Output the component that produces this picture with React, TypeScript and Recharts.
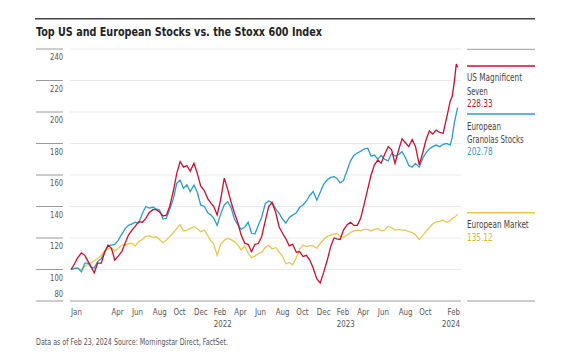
import React from "react";
import { LineChart, Line, XAxis, YAxis, CartesianGrid } from "recharts";

const dates = [
  "2021-01-01","2021-01-11","2021-01-21","2021-02-01","2021-02-11","2021-02-21",
  "2021-03-01","2021-03-11","2021-03-21","2021-04-01","2021-04-11","2021-04-21",
  "2021-05-01","2021-05-11","2021-05-21","2021-06-01","2021-06-11","2021-06-21",
  "2021-07-01","2021-07-11","2021-07-21","2021-08-01","2021-08-11","2021-08-21",
  "2021-09-01","2021-09-11","2021-09-21","2021-10-01","2021-10-11","2021-10-21",
  "2021-11-01","2021-11-11","2021-11-21","2021-12-01","2021-12-11","2021-12-21",
  "2022-01-01","2022-01-11","2022-01-21","2022-02-01","2022-02-11","2022-02-21",
  "2022-03-01","2022-03-11","2022-03-21","2022-04-01","2022-04-11","2022-04-21",
  "2022-05-01","2022-05-11","2022-05-21","2022-06-01","2022-06-11","2022-06-21",
  "2022-07-01","2022-07-11","2022-07-21","2022-08-01","2022-08-11","2022-08-21",
  "2022-09-01","2022-09-11","2022-09-21","2022-10-01","2022-10-11","2022-10-21",
  "2022-11-01","2022-11-11","2022-11-21","2022-12-01","2022-12-11","2022-12-21",
  "2023-01-01","2023-01-11","2023-01-21","2023-02-01","2023-02-11","2023-02-21",
  "2023-03-01","2023-03-11","2023-03-21","2023-04-01","2023-04-11","2023-04-21",
  "2023-05-01","2023-05-11","2023-05-21","2023-06-01","2023-06-11","2023-06-21",
  "2023-07-01","2023-07-11","2023-07-21","2023-08-01","2023-08-11","2023-08-21",
  "2023-09-01","2023-09-11","2023-09-21","2023-10-01","2023-10-11","2023-10-21",
  "2023-11-01","2023-11-11","2023-11-21","2023-12-01","2023-12-11","2023-12-21",
  "2024-01-01","2024-01-11","2024-01-21","2024-02-01","2024-02-07","2024-02-13",
  "2024-02-19","2024-02-23",
];

const usMagnificentSeven = [
  100, 103.5, 107.5, 110.5, 109, 105,
  102, 97.8, 104, 104, 111, 115.5,
  113.5, 106, 108.5, 111.5, 117, 122,
  125, 127.5, 130.4, 130, 132.5, 136,
  138, 138, 136.5, 134, 134.5, 140,
  150, 161, 168.5, 165, 166, 162.5,
  167.4, 161, 153, 150, 145, 142,
  140, 134.6, 144, 158, 151, 143,
  136, 130, 122, 116.6, 116, 111.3,
  116, 116.5, 120.8, 131, 140, 142.5,
  136, 127, 123, 119.5, 115, 116,
  111, 111.3, 108.2, 109, 106, 101,
  94, 91.5, 98, 106, 114.5, 120,
  119.5, 119, 125, 128.5, 130, 128,
  128, 132.5, 141, 151, 160, 166.5,
  169.5, 167.5, 173, 178, 176, 167.4,
  176, 183, 180.5, 178, 182.5, 178,
  166.4, 173.8, 182.2, 188, 186, 188.5,
  187, 186.5, 196, 207, 210, 219,
  230.5, 228.33,
];

const europeanGranolas = [
  100, 100.5, 101, 98.5, 104, 104,
  101.5, 101, 105, 107, 111, 115,
  115.5, 116, 118.5, 122.5, 126, 128,
  129, 130, 129.5, 135.5, 140, 139,
  139.5, 138.5, 137.8, 132, 132.5, 138,
  145, 154.7, 156.8, 151.5, 153.7, 149.4,
  153.5, 149, 141, 140, 136, 134.6,
  132.5, 128, 135, 141, 143, 139.5,
  132, 128.5, 125.5, 127, 130, 123,
  122.5, 128, 133, 142, 143.5, 142.5,
  138.5, 135.7, 132, 129.5, 133, 134.5,
  136, 139.5, 141, 143.5, 147, 149.5,
  144, 149, 154, 157, 158.5, 159,
  158, 155, 156.5, 163, 169, 172.5,
  174, 175, 176.5, 177, 172, 172.7,
  170, 172.5, 170, 169, 173.8, 172,
  173, 174.8, 171, 166, 165, 167.4,
  165, 170.5, 174, 176.5, 178, 179,
  178, 179.5, 180, 179, 184, 193,
  199, 202.78,
];

const europeanMarket = [
  100, 101, 100.5, 100, 102, 103.5,
  104, 105.5, 107, 109, 112, 113,
  113.5, 112, 113.5, 115.5, 115.5, 116.6,
  116.5, 115, 117.7, 119, 121, 121.3,
  120.4, 120.8, 119, 117, 118.5, 121,
  123.5, 126, 128.5, 124.5, 125, 126,
  127.2, 126, 124, 125, 121.5, 118,
  116, 109, 116, 118.5, 119.8, 119,
  117.7, 115.8, 112.4, 115, 110.5, 107.5,
  108.5, 110, 110.8, 114, 115.5, 113,
  114, 111, 108.5, 103.5, 104.5, 103,
  107.5, 113, 115.5, 114.5, 115.2, 115,
  113.5, 116.5, 119, 121, 122, 122.5,
  123, 121, 120.5, 122, 123.5, 124.5,
  125, 124.5, 125.5, 125.5, 124.5, 125.5,
  126, 124.5, 125, 127.5, 126.5, 125,
  125.5, 125, 125, 124, 123.5, 122,
  119, 121.5, 124, 126.5, 129, 130.2,
  130.5, 131.4, 130, 131, 132.5, 133,
  134.2, 135.12,
];

const yTicks = [80, 100, 120, 140, 160, 180, 200, 220, 240];

const xTickDates = [
  "2021-01-01","2021-05-01","2021-07-01","2021-09-01","2021-11-01","2022-01-01",
  "2022-03-01","2022-05-01","2022-07-01","2022-09-01","2022-11-01","2023-01-01",
  "2023-03-01","2023-05-01","2023-07-01","2023-09-01","2023-11-01","2024-03-01",
];
const xTickMonths = [
  "Jan","Apr","Jun","Aug","Oct","Dec",
  "Feb","Apr","Jun","Aug","Oct","Dec",
  "Feb","Apr","Jun","Aug","Oct","Feb",
];
const xTickYears = [
  "","","","","","",
  "2022","","","","","",
  "2023","","","","","2024",
];

const legendLines = [
  ["US Magnificent", "Seven"],
  ["European", "Granolas Stocks"],
  ["European Market"],
];
const lastValues = ["228.33", "202.78", "135.12"];

const ts = (s: string) => {
  const [y, m, d] = s.split("-").map(Number);
  return Date.UTC(y, m - 1, d);
};

const rows = dates.map((d, i) => ({
  t: ts(d),
  us: usMagnificentSeven[i],
  gran: europeanGranolas[i],
  eu: europeanMarket[i],
}));

const xTicks = xTickDates.map(ts);
const xDomain = [ts("2020-12-29"), ts("2024-03-04")];

const RED = "#c8102e";
const BLUE = "#2b9ccf";
const YELLOW = "#ebc651";
const FONT = "'DejaVu Sans Condensed', 'DejaVu Sans', sans-serif";

const NText = (props: any) => {
  const { x, y, sx, anchor, children, ...rest } = props;
  return (
    <text
      transform={`translate(${x},${y}) scale(${sx},1)`}
      x={0}
      y={0}
      textAnchor={anchor || "start"}
      fontFamily={FONT}
      {...rest}
    >
      {children}
    </text>
  );
};

const XTick = (props: any) => {
  const { x, payload } = props;
  const i = xTicks.indexOf(payload.value);
  if (i < 0) return null;
  const anchor = i === xTicks.length - 1 ? "end" : "start";
  return (
    <g>
      <NText x={x} y={314.5} sx={0.82} anchor={anchor} fontSize={9.6} fill="#555">
        {xTickMonths[i]}
      </NText>
      {xTickYears[i] ? (
        <NText x={x} y={327} sx={0.82} anchor={anchor} fontSize={9.6} fill="#555">
          {xTickYears[i]}
        </NText>
      ) : null}
    </g>
  );
};

const YTick = (props: any) => {
  const { y, payload } = props;
  const v = payload.value;
  return (
    <g>
      <line x1={36} x2={63} y1={y} y2={y} stroke="#9a9a9a" strokeWidth={1} />
      <NText
        x={63}
        y={v === 80 ? y - 4.5 : y + 11}
        sx={0.8}
        anchor="end"
        fontSize={9.4}
        fill="#555"
      >
        {v}
      </NText>
    </g>
  );
};

export default function App() {
  const lx = 467;
  const lt = { fontSize: 9.6, fontFamily: FONT };
  return (
    <div
      style={{
        position: "absolute",
        left: 0,
        top: 0,
        width: 563,
        height: 355,
        background: "#fff",
        overflow: "hidden",
      }}
    >
      <LineChart
        width={563}
        height={355}
        data={rows}
        margin={{ top: 49, right: 102, bottom: 0, left: 36 }}
        style={{ position: "absolute", left: 0, top: 0 }}
      >
        <CartesianGrid horizontal vertical={false} stroke="#ebebeb" strokeWidth={1} />
        <XAxis
          type="number"
          dataKey="t"
          domain={xDomain}
          ticks={xTicks}
          interval={0}
          tick={<XTick />}
          tickLine={false}
          axisLine={{ stroke: "#a8a8a8", strokeWidth: 1 }}
          height={54}
          allowDataOverflow
        />
        <YAxis
          type="number"
          domain={[80, 240]}
          ticks={yTicks}
          interval={0}
          width={34}
          axisLine={false}
          tickLine={false}
          tick={<YTick />}
          allowDataOverflow
        />
        <Line type="linear" dataKey="eu" stroke={YELLOW} strokeWidth={1.3} dot={false} isAnimationActive={false} />
        <Line type="linear" dataKey="gran" stroke={BLUE} strokeWidth={1.3} dot={false} isAnimationActive={false} />
        <Line type="linear" dataKey="us" stroke={RED} strokeWidth={1.3} dot={false} isAnimationActive={false} />
      </LineChart>
      <svg
        width={563}
        height={355}
        style={{ position: "absolute", left: 0, top: 0, pointerEvents: "none" }}
      >
        <line x1={35} x2={535} y1={18.7} y2={18.7} stroke="#444" strokeWidth={1.4} />
        <text
          x={36}
          y={36}
          fontSize={12.8}
          fontWeight="bold"
          fill="#222"
          fontFamily={FONT}
          textLength={286}
          lengthAdjust="spacingAndGlyphs"
        >
          Top US and European Stocks vs. the Stoxx 600 Index
        </text>
        <line x1={lx} x2={535} y1={49.3} y2={49.3} stroke="#9a9a9a" strokeWidth={1} />
        <line x1={lx} x2={535} y1={301} y2={301} stroke="#9a9a9a" strokeWidth={1} />

        <line x1={lx} x2={535} y1={66} y2={66} stroke={RED} strokeWidth={1.4} />
        <text x={lx} y={81} {...lt} fill="#444" textLength={55} lengthAdjust="spacingAndGlyphs">{legendLines[0][0]}</text>
        <text x={lx} y={94.5} {...lt} fill="#444" textLength={20.7} lengthAdjust="spacingAndGlyphs">{legendLines[0][1]}</text>
        <text x={lx} y={107} {...lt} fill={RED} textLength={25.7} lengthAdjust="spacingAndGlyphs">{lastValues[0]}</text>

        <line x1={lx} x2={535} y1={114} y2={114} stroke={BLUE} strokeWidth={1.4} />
        <text x={lx} y={129.5} {...lt} fill="#444" textLength={34} lengthAdjust="spacingAndGlyphs">{legendLines[1][0]}</text>
        <text x={lx} y={142.5} {...lt} fill="#444" textLength={56.7} lengthAdjust="spacingAndGlyphs">{legendLines[1][1]}</text>
        <text x={lx} y={155} {...lt} fill={BLUE} textLength={25.7} lengthAdjust="spacingAndGlyphs">{lastValues[1]}</text>

        <line x1={lx} x2={535} y1={212.7} y2={212.7} stroke={YELLOW} strokeWidth={1.4} />
        <text x={lx} y={227.5} {...lt} fill="#444" textLength={61.7} lengthAdjust="spacingAndGlyphs">{legendLines[2][0]}</text>
        <text x={lx} y={240.5} {...lt} fill="#d9b13a" textLength={25.7} lengthAdjust="spacingAndGlyphs">{lastValues[2]}</text>

        <text
          x={36}
          y={344.5}
          fontSize={8.5}
          fill="#555"
          fontFamily={FONT}
          textLength={192}
          lengthAdjust="spacingAndGlyphs"
        >
          Data as of Feb 23, 2024 Source: Morningstar Direct, FactSet.
        </text>
      </svg>
    </div>
  );
}
